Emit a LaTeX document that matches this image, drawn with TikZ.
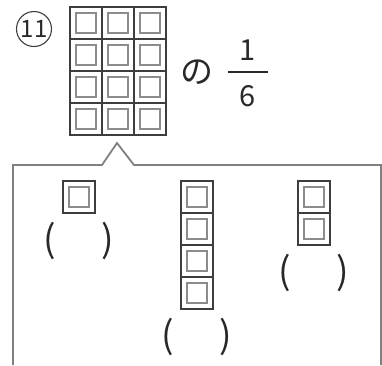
\documentclass[tikz,border=0pt]{standalone}
\usepackage{fontspec}
\setmainfont{Noto Sans CJK JP}
\usetikzlibrary{positioning}
\definecolor{cellline}{RGB}{62,62,62}
\definecolor{innerline}{RGB}{140,140,140}
\definecolor{frameline}{RGB}{128,128,128}
\definecolor{textdark}{RGB}{40,40,40}

\begin{document}
\begin{tikzpicture}[
  x=1pt, y=-1pt,
  cell/.style={rectangle, draw=cellline, line width=1.8pt, minimum size=32pt,
               inner sep=0pt, outer sep=0pt,
               path picture={\draw[innerline, line width=1.6pt]
                 ([shift={(-10pt,-10pt)}]path picture bounding box.center) rectangle
                 ([shift={(10pt,10pt)}]path picture bounding box.center);}},
  blank/.style={font=\fontsize{37}{37}\selectfont, text=textdark, inner sep=0pt},
  word/.style={font=\fontsize{29}{29}\selectfont, text=textdark, inner sep=0pt},
  frame/.style={draw=frameline, line width=1.8pt}
]
\useasboundingbox (0,0) rectangle (382,365);

% problem number
\node[circle, draw=cellline, line width=1.1pt, minimum size=35pt, inner sep=0pt,
      word, font=\fontsize{24}{24}\selectfont] (num) at (34,29) {11};

% 3 x 4 grid
\foreach \r in {0,...,3}
  \foreach \c in {0,...,2}
    \node[cell] (g\r\c) at (86+32*\c, 23+32*\r) {};

\node[word, font=\fontsize{33}{33}\selectfont] (no) at (197,72) {の};
\node[fill=textdark, minimum width=40pt, minimum height=1.8pt, inner sep=0pt] (bar) at (248,72) {};
\node[word, above=10pt of bar] (one) {1};
\node[word, below=12pt of bar] (six) {6};

% answer frame
\coordinate (tip) at (117,143);
\draw[frame] (13,365) -- (13,165) -- (102,165) -- (tip) -- (134,165) -- (381,165) -- (381,365);

% one cell
\node[cell] (a1) at (79,197) {};
\node[blank, below=9pt of a1] (pa) {(\hspace{46pt})};

% four cells
\foreach \r in {1,...,4}
  \node[cell] (b\r) at (197, 165+32*\r) {};
\node[blank, below=9pt of b4] (pb) {(\hspace{46pt})};

% two cells
\foreach \r in {1,2}
  \node[cell] (c\r) at (314, 165+32*\r) {};
\node[blank, below=9pt of c2] (pc) {(\hspace{46pt})};
\end{tikzpicture}
\end{document}
